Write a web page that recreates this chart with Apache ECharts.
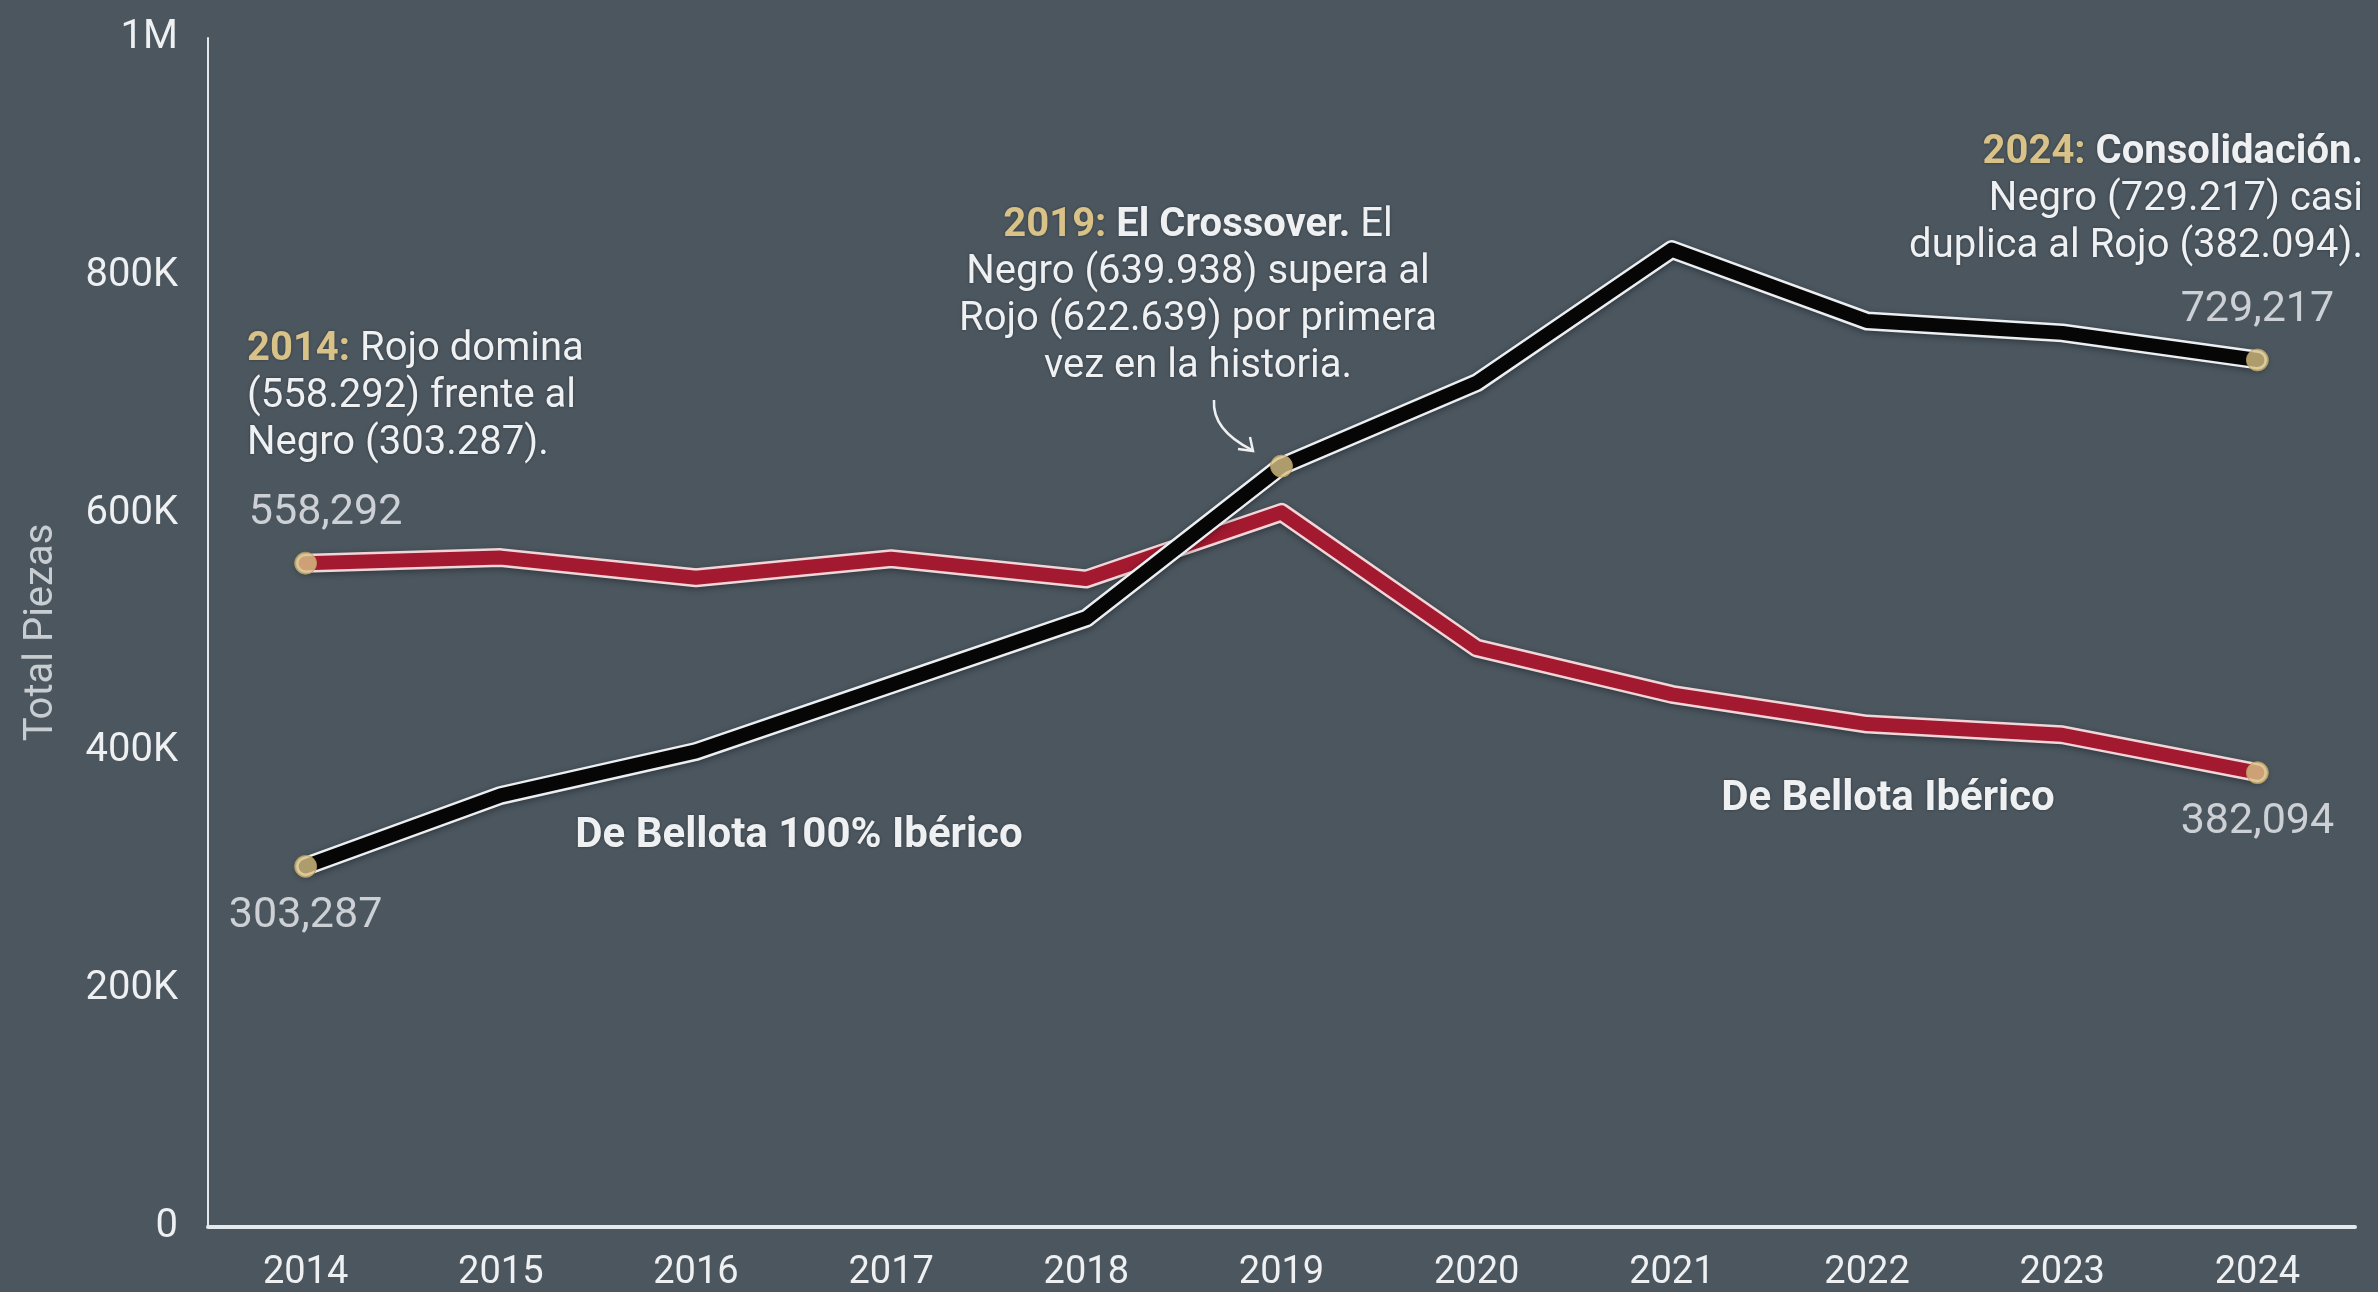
<!DOCTYPE html>
<html>
<head>
<meta charset="utf-8">
<script src="https://cdn.jsdelivr.net/npm/echarts@6/dist/echarts.min.js"></script>
<style>
  html, body { margin: 0; padding: 0; background: #4b565f; }
  #chart { width: 2378px; height: 1292px; }
</style>
</head>
<body>
<div id="chart"></div>
<script>
// datos
var years = ['2014', '2015', '2016', '2017', '2018', '2019', '2020', '2021', '2022', '2023', '2024']
var negro = [303287, 363000, 400000, 456000, 512000, 639938, 710000, 822000, 762000, 752000, 729217] // De Bellota 100% Ibérico
var rojo = [558292, 563000, 546000, 562000, 545000, 601000, 487000, 448000, 423000, 414000, 382094]  // De Bellota Ibérico
var yTicks = [0, 200000, 400000, 600000, 800000, 1000000]

var gold = '#d8c287'
var txt = '#eef0f2'
var font = 'Roboto, "Liberation Sans", sans-serif'

var chart = echarts.init(document.getElementById('chart'))

function fmt (v) {
  return v.toLocaleString('en-US')
}

// puntos destacados
var negroPts = [0, 5, 10].map(function (i) {
  var lbl = { show: false }
  if (i === 0) lbl = { show: true, position: 'bottom' }
  if (i === 10) lbl = { show: true, position: 'top' }
  return { value: [i, negro[i]], label: lbl }
})
var rojoPts = [0, 10].map(function (i) {
  var lbl = { show: true, position: i === 0 ? 'top' : 'bottom' }
  if (i === 0) lbl.offset = [20, 0]
  return { value: [i, rojo[i]], label: lbl }
})

var noteSize = 40
var richBase = {
  y: { fill: gold, fontWeight: 'bold', fontSize: noteSize, fontFamily: font },
  b: { fill: txt, fontWeight: 'bold', fontSize: noteSize, fontFamily: font },
  n: { fill: txt, fontWeight: 'normal', fontSize: noteSize, fontFamily: font }
}

function note (x, y, align, text) {
  return {
    type: 'text',
    x: x,
    y: y,
    z: 100,
    style: {
      text: text,
      align: align,
      verticalAlign: 'top',
      lineHeight: 47,
      fontSize: noteSize,
      fontFamily: font,
      fill: txt,
      rich: richBase,
      textShadowColor: 'rgba(0,0,0,0.35)',
      textShadowBlur: 3
    }
  }
}

function seriesLabel (x, y, text) {
  return {
    type: 'text', x: x, y: y, z: 100,
    style: { text: text, align: 'center', verticalAlign: 'middle',
      fontSize: 42, fontWeight: 'bold', fontFamily: font, fill: txt,
      textShadowColor: 'rgba(0,0,0,0.35)', textShadowBlur: 3 }
  }
}

var option = {
  backgroundColor: '#4b565f',
  animation: false,
  grid: { left: 208, right: 23, top: 38, bottom: 64 },
  xAxis: {
    type: 'category',
    data: years,
    boundaryGap: true,
    axisLine: { lineStyle: { color: '#e6e9ec', width: 4 } },
    axisTick: { show: false },
    axisLabel: { color: txt, fontSize: 38, fontFamily: font, margin: 27 }
  },
  yAxis: {
    type: 'value',
    min: 0,
    max: 1000000,
    interval: 200000,
    name: 'Total Piezas',
    nameLocation: 'middle',
    nameGap: 146,
    nameTextStyle: { color: '#c8cdd2', fontSize: 40, fontFamily: font },
    axisLine: { show: true, lineStyle: { color: '#e6e9ec', width: 2 } },
    axisTick: { show: false },
    splitLine: { show: false },
    axisLabel: {
      color: txt,
      fontSize: 40,
      fontFamily: font,
      margin: 30,
      formatter: function (v) {
        if (yTicks.indexOf(v) < 0) return ''
        if (v === 0) return '0'
        if (v >= 1000000) return (v / 1000000) + 'M'
        return (v / 1000) + 'K'
      }
    }
  },
  series: [
    {
      name: 'rojo-borde', type: 'line', data: rojo, symbol: 'none', z: 2,
      lineStyle: { color: '#f1d6d9', width: 19, cap: 'round', join: 'round',
        shadowColor: 'rgba(0,0,0,0.35)', shadowBlur: 6, shadowOffsetY: 2 }
    },
    {
      name: 'De Bellota Ibérico', type: 'line', data: rojo, symbol: 'none', z: 3,
      lineStyle: { color: '#a3192f', width: 14, cap: 'round', join: 'round' }
    },
    {
      name: 'negro-borde', type: 'line', data: negro, symbol: 'none', z: 4,
      lineStyle: { color: '#eceff1', width: 19, cap: 'round', join: 'round',
        shadowColor: 'rgba(0,0,0,0.35)', shadowBlur: 6, shadowOffsetY: 2 }
    },
    {
      name: 'De Bellota 100% Ibérico', type: 'line', data: negro, symbol: 'none', z: 5,
      lineStyle: { color: '#060606', width: 14, cap: 'round', join: 'round' }
    },
    {
      type: 'scatter', z: 10, symbolSize: 22,
      data: rojoPts.concat(negroPts),
      itemStyle: { color: gold, borderColor: '#b59a55', borderWidth: 1 },
      label: {
        distance: 17, color: txt, fontSize: 43, fontFamily: font,
        formatter: function (p) { return fmt(p.value[1]) }
      }
    }
  ],
  graphic: [
    note(247, 326, 'left',
      '{y|2014:}{n| Rojo domina}\n{n|(558.292) frente al}\n{n|Negro (303.287).}'),
    note(1198, 202, 'center',
      '{y|2019:}{b| El Crossover.}{n| El}\n{n|Negro (639.938) supera al}\n{n|Rojo (622.639) por primera}\n{n|vez en la historia.}'),
    note(2363, 129, 'right',
      '{y|2024:}{b| Consolidación.}\n{n|Negro (729.217) casi}\n{n|duplica al Rojo (382.094).}'),
    seriesLabel(799, 836, 'De Bellota 100% Ibérico'),
    seriesLabel(1888, 799, 'De Bellota Ibérico'),
    // flecha curva hacia el cruce
    {
      type: 'bezierCurve', z: 100,
      shape: { x1: 1214, y1: 400, x2: 1252, y2: 450, cpx1: 1212, cpy1: 430 },
      style: { stroke: txt, lineWidth: 2.5, fill: null }
    },
    {
      type: 'polyline', z: 100,
      shape: { points: [[1238, 449], [1253, 451], [1250, 437]] },
      style: { stroke: txt, lineWidth: 2.5, fill: null }
    }
  ]
}

chart.setOption(option)
</script>
</body>
</html>
